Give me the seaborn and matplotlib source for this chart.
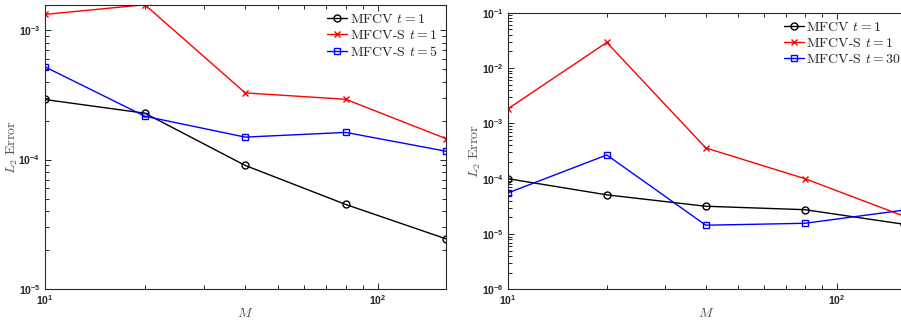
import matplotlib
matplotlib.use("Agg")
import matplotlib.pyplot as plt
import seaborn as sns
from matplotlib.ticker import LogLocator, NullFormatter

# grid sizes
M = [10, 20, 40, 80, 160]

# left panel
left_mfcv_t1 = [2.91e-4, 2.28e-4, 9.0e-5, 4.5e-5, 2.44e-5]
left_mfcvs_t1 = [1.32e-3, 1.57e-3, 3.27e-4, 2.92e-4, 1.45e-4]
left_mfcvs_t5 = [5.22e-4, 2.16e-4, 1.49e-4, 1.62e-4, 1.16e-4]
left_labels = ["MFCV $t=1$", "MFCV-S $t=1$", "MFCV-S $t=5$"]

# right panel
right_mfcv_t1 = [1.0e-4, 5.1e-5, 3.17e-5, 2.75e-5, 1.5e-5]
right_mfcvs_t1 = [1.82e-3, 2.9e-2, 3.59e-4, 1.0e-4, 2.1e-5]
right_mfcvs_t30 = [5.5e-5, 2.68e-4, 1.44e-5, 1.56e-5, 2.7e-5]
right_labels = ["MFCV $t=1$", "MFCV-S $t=1$", "MFCV-S $t=30$"]

colors = ["black", "red", "blue"]
markers = ["o", "x", "s"]
msizes = [5, 4, 4]

sns.set_style("ticks")
plt.rcParams['font.family'] = ['Liberation Sans', 'DejaVu Sans']
plt.rcParams['mathtext.fontset'] = 'cm'
plt.rcParams['axes.unicode_minus'] = False

fig = plt.figure(figsize=(9.01, 3.2), dpi=100)
ax1 = fig.add_axes([44.5 / 901, 31 / 320, 401.5 / 901, 284.3 / 320])
ax2 = fig.add_axes([507.7 / 901, 30.7 / 320, 396.2 / 901, 276.6 / 320])


def draw(ax, series, labels, ylim, ylab_x, leg_shift, right_ticks):
    for vals, lab, c, mk, ms in zip(series, labels, colors, markers, msizes):
        sns.lineplot(x=M, y=vals, ax=ax, color=c, marker=mk, markersize=ms,
                     markerfacecolor="none", markeredgecolor=c, markeredgewidth=1,
                     linewidth=1, label=lab)
    ax.set_xscale("log")
    ax.set_yscale("log")
    ax.set_xlim(10, 160)
    ax.set_ylim(*ylim)
    ax.xaxis.set_major_locator(LogLocator(base=10, numticks=10))
    ax.xaxis.set_minor_locator(LogLocator(base=10, subs=(2, 3, 4, 5, 6, 7, 8, 9), numticks=20))
    ax.yaxis.set_minor_locator(LogLocator(base=10, subs=(2, 3, 4, 5, 6, 7, 8, 9), numticks=20))
    ax.xaxis.set_minor_formatter(NullFormatter())
    ax.yaxis.set_minor_formatter(NullFormatter())
    ax.tick_params(which="both", direction="in", top=True, right=right_ticks,
                   color="#262626", width=0.7)
    ax.tick_params(which="major", length=4.5, pad=3)
    ax.tick_params(which="minor", length=3)
    for lbl in ax.get_xticklabels() + ax.get_yticklabels():
        lbl.set_fontweight("bold")
        lbl.set_fontsize(7.5)
        lbl.set_color("#262626")
    for sp in ax.spines.values():
        sp.set_visible(True)
        sp.set_linewidth(0.8)
        sp.set_color("#262626")
    ax.set_xlabel(r"$M$", fontsize=10, color="#555555")
    ax.set_ylabel(r"$L_2\ \mathrm{Error}$", fontsize=10, color="#555555")
    h = ax.get_position().height * 320
    w = ax.get_position().width * 901
    ax.xaxis.set_label_coords(0.5, -17 / h)
    ax.yaxis.set_label_coords(ylab_x / w, 0.5)
    ax.legend(loc="upper right", bbox_to_anchor=(1 + leg_shift / w, 1),
              frameon=False, prop={"family": "cmr10", "size": 10},
              handlelength=1.45, handletextpad=0.17, labelspacing=0.2,
              borderaxespad=0.3, borderpad=0.3)


draw(ax1, [left_mfcv_t1, left_mfcvs_t1, left_mfcvs_t5], left_labels,
     (1e-5, 1.57e-3), -25, 0, True)
# right panel runs past the figure edge in the reference
draw(ax2, [right_mfcv_t1, right_mfcvs_t1, right_mfcvs_t30], right_labels,
     (1e-6, 1e-1), -25, 6, False)

fig.savefig("out.png", dpi=100)
